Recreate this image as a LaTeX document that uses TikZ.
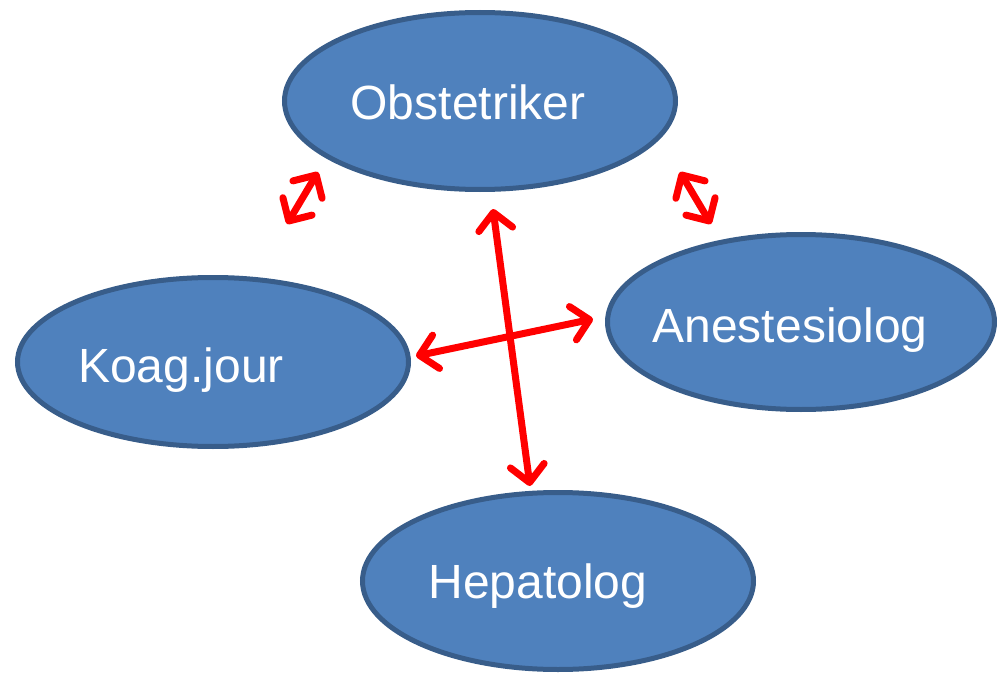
\documentclass[tikz,border=0pt]{standalone}
\usepackage{fontspec}
\setmainfont{Liberation Sans}
\usetikzlibrary{arrows.meta,shapes.geometric}
\definecolor{bfill}{HTML}{4F81BD}
\definecolor{bdraw}{HTML}{385D8A}
\definecolor{ared}{HTML}{FF0000}
\tikzset{
  bubble/.style={ellipse, fill=bfill, draw=bdraw, line width=5pt, inner sep=0pt},
  lbl/.style={text=white, font=\fontsize{48}{56}\selectfont, inner sep=0pt},
  link/.style={draw=ared, line width=7pt, line cap=round,
    {Straight Barb[length=17pt,width=34pt,line cap=round,line join=round]}-{Straight Barb[length=17pt,width=34pt,line cap=round,line join=round]}}
}
\begin{document}
\begin{tikzpicture}[x=1pt,y=-1pt]
\useasboundingbox (0,0) rectangle (997,677);
\node[bubble, minimum width=391pt, minimum height=177pt] (obs) at (480,101) {};
\node[bubble, minimum width=387pt, minimum height=175pt] (ane) at (801,322) {};
\node[bubble, minimum width=391pt, minimum height=169pt] (koa) at (213,362) {};
\node[bubble, minimum width=391pt, minimum height=177pt] (hep) at (558,581) {};
\node[lbl] (tobs) at (468,102) {Obstetriker};
\node[lbl] (tane) at (790,330) {Anestesiolog};
\node[lbl] (tkoa) at (181,370) {Koag.jour};
\node[lbl] (thep) at (538,586) {Hepatolog};
\coordinate (a1s) at (318,172);
\coordinate (a1e) at (287,224);
\coordinate (a2s) at (680,172);
\coordinate (a2e) at (711,224);
\coordinate (a3s) at (493,209);
\coordinate (a3e) at (530,486);
\coordinate (a4s) at (416,356);
\coordinate (a4e) at (593,319);
\draw[link] (a1s) -- (a1e);
\draw[link] (a2s) -- (a2e);
\draw[link] (a3s) -- (a3e);
\draw[link] (a4s) -- (a4e);
\end{tikzpicture}
\end{document}
